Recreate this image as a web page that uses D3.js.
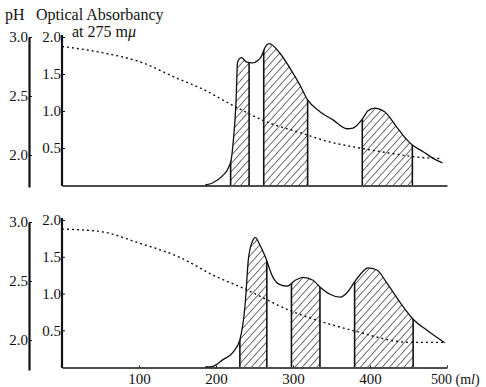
<!DOCTYPE html>
<html>
<head>
<meta charset="utf-8">
<title>Optical Absorbancy and pH</title>
<script src="https://cdnjs.cloudflare.com/ajax/libs/d3/7.8.5/d3.min.js"></script>
<style>
    * { margin: 0; padding: 0; }
    body { background: #fff; }
    svg { display: block; font-family: "Liberation Serif", "DejaVu Serif", serif; }
    .axis path, .axis line { stroke: #111; }
</style>
</head>
<body>
<script>
    // effluent volume ticks (ml) and value ticks
    var mlTicks = [100, 200, 300, 400, 500];
    var absTicks = [0.5, 1.0, 1.5, 2.0];
    var phTicks = [2.0, 2.5, 3.0];

    // upper run
    var topAbsMl = [186, 196, 208, 216, 220, 222, 226, 228, 233, 240, 247, 255, 260, 262, 269, 283, 296, 309, 319, 335, 352, 370, 378, 390, 397, 406, 419, 435, 448, 455, 469, 482, 494];
    var topAbs = [0, 0.03, 0.12, 0.23, 0.36, 0.54, 1.12, 1.66, 1.72, 1.66, 1.65, 1.69, 1.76, 1.82, 1.91, 1.78, 1.58, 1.35, 1.15, 0.99, 0.88, 0.76, 0.77, 0.89, 1.00, 1.04, 0.99, 0.78, 0.61, 0.54, 0.45, 0.36, 0.30];
    var topPhMl = [0, 50, 101, 153, 179, 222, 266, 309, 348, 378, 422, 465, 494];
    var topPh = [2.92, 2.87, 2.79, 2.64, 2.57, 2.42, 2.28, 2.19, 2.11, 2.07, 2.02, 1.98, 1.97];
    var topBands = [[219, 243], [262, 319], [390, 455]];

    // lower run
    var botAbsMl = [186, 196, 209, 222, 231, 238, 242, 247, 251, 257, 264, 274, 283, 292, 303, 313, 326, 335, 348, 361, 371, 380, 390, 397, 409, 422, 439, 456, 474, 497];
    var botAbs = [0, 0.01, 0.10, 0.20, 0.37, 0.87, 1.46, 1.70, 1.76, 1.66, 1.50, 1.22, 1.12, 1.10, 1.18, 1.22, 1.18, 1.09, 0.99, 0.95, 1.02, 1.16, 1.29, 1.35, 1.32, 1.14, 0.88, 0.65, 0.50, 0.33];
    var botPhMl = [0, 49, 101, 153, 196, 235, 296, 378, 452, 497];
    var botPh = [2.94, 2.92, 2.82, 2.70, 2.55, 2.44, 2.25, 2.08, 1.98, 1.98];
    var botBands = [[231, 266], [298, 335], [380, 456]];

    var width = 486, height = 387;
    var serif = "'Liberation Serif', 'DejaVu Serif', serif";

    var svg = d3.select("body").append("svg")
        .attr("width", width)
        .attr("height", height);

    svg.append("rect").attr("width", width).attr("height", height).attr("fill", "#fff");

    // diagonal hatching
    svg.append("defs").append("pattern")
        .attr("id", "hatch")
        .attr("patternUnits", "userSpaceOnUse")
        .attr("width", 5.4)
        .attr("height", 5.4)
        .attr("patternTransform", "rotate(42)")
        .append("line")
        .attr("x1", 0).attr("y1", 0)
        .attr("x2", 0).attr("y2", 5.4)
        .attr("stroke", "#111")
        .attr("stroke-width", 1.2);

    var x = d3.scaleLinear().domain([0, 500]).range([62, 447]);

    var panels = [
        { id: "top", ml: topAbsMl, abs: topAbs, phMl: topPhMl, ph: topPh, bands: topBands,
          base: 185, absTop: 37, phTopY: 37, phStep: 118, phBottom: 187, labels: false },
        { id: "bot", ml: botAbsMl, abs: botAbs, phMl: botPhMl, ph: botPh, bands: botBands,
          base: 367, absTop: 220, phTopY: 222, phStep: 118, phBottom: 370, labels: true }
    ];

    panels.forEach(function(p) {
        var g = svg.append("g").attr("class", "panel-" + p.id);

        var y = d3.scaleLinear()
            .domain([0, 2.0])
            .range([p.base, p.absTop]);
        // pH axis reaches down past 2.0
        var phLow = 3.0 - (p.phBottom - p.phTopY) / p.phStep;
        var yPh = d3.scaleLinear()
            .domain([phLow, 3.0])
            .range([p.phBottom, p.phTopY]);

        var pts = p.ml.map(function(d, i) { return [d, p.abs[i]]; });
        var phPts = p.phMl.map(function(d, i) { return [d, p.ph[i]]; });

        var area = d3.area()
            .x(function(d) { return x(d[0]); })
            .y0(y(0))
            .y1(function(d) { return y(d[1]); })
            .curve(d3.curveMonotoneX);
        var line = d3.line()
            .x(function(d) { return x(d[0]); })
            .y(function(d) { return y(d[1]); })
            .curve(d3.curveMonotoneX);

        // clip under the curve, used for band edges
        var defs = svg.select("defs");
        defs.append("clipPath").attr("id", "under-" + p.id)
            .append("path").attr("d", area(pts));

        p.bands.forEach(function(b, i) {
            defs.append("clipPath").attr("id", "band-" + p.id + i)
                .append("rect")
                .attr("x", x(b[0]))
                .attr("y", 0)
                .attr("width", x(b[1]) - x(b[0]))
                .attr("height", height);
            g.append("path")
                .attr("d", area(pts))
                .attr("fill", "url(#hatch)")
                .attr("clip-path", "url(#band-" + p.id + i + ")");
        });

        // vertical band edges
        var edges = [];
        p.bands.forEach(function(b) { edges.push(b[0], b[1]); });
        g.append("g").attr("clip-path", "url(#under-" + p.id + ")")
            .selectAll("line")
            .data(edges)
            .enter().append("line")
            .attr("x1", function(d) { return x(d); })
            .attr("x2", function(d) { return x(d); })
            .attr("y1", y(0))
            .attr("y2", p.absTop - 5)
            .attr("stroke", "#111")
            .attr("stroke-width", 1.6);

        // absorbancy curve
        g.append("path")
            .attr("d", line(pts))
            .attr("fill", "none")
            .attr("stroke", "#111")
            .attr("stroke-width", 1.3);

        // pH curve (dotted)
        g.append("path")
            .attr("d", d3.line()
                .x(function(d) { return x(d[0]); })
                .y(function(d) { return yPh(d[1]); })
                .curve(d3.curveMonotoneX)(phPts))
            .attr("fill", "none")
            .attr("stroke", "#111")
            .attr("stroke-width", 1.4)
            .attr("stroke-dasharray", "2,3");

        // x axis
        var xAxis = d3.axisBottom(x)
            .tickValues(p.labels ? mlTicks : [])
            .tickSizeInner(-2)
            .tickSizeOuter(0)
            .tickPadding(6)
            .tickFormat(function(d) { return d === 500 ? "" : d3.format("d")(d); });
        var xg = g.append("g")
            .attr("class", "axis")
            .attr("transform", "translate(0," + (p.base + 0.5) + ")")
            .call(xAxis)
            .attr("font-family", serif)
            .attr("font-size", 15);
        xg.selectAll("text").attr("fill", "#111");
        xg.select(".domain").attr("stroke-width", 1.6);

        if (p.labels) {
            var last = g.append("text")
                .attr("x", x(500) - 16)
                .attr("y", p.base + 17)
                .attr("fill", "#111")
                .style("font-size", "14px")
                .text("500 (m");
            last.append("tspan").style("font-style", "italic").text("l");
            last.append("tspan").text(")");
        }

        // absorbancy axis
        var yAxis = d3.axisLeft(y)
            .tickValues(absTicks)
            .tickSizeInner(-3)
            .tickSizeOuter(0)
            .tickPadding(1)
            .tickFormat(d3.format(".1f"));
        var yg = g.append("g")
            .attr("class", "axis")
            .attr("transform", "translate(" + x(0) + ",0)")
            .call(yAxis)
            .attr("font-family", serif)
            .attr("font-size", 15);
        yg.selectAll("text").attr("fill", "#111");
        yg.select(".domain")
            .attr("d", "M0," + (y(0) + 1) + "V" + (p.absTop - 2))
            .attr("stroke-width", 2.2);

        // pH axis
        var phAxis = d3.axisLeft(yPh)
            .tickValues(phTicks)
            .tickSizeInner(-3)
            .tickSizeOuter(0)
            .tickPadding(1)
            .tickFormat(d3.format(".1f"));
        var pg = g.append("g")
            .attr("class", "axis")
            .attr("transform", "translate(29,0)")
            .call(phAxis)
            .attr("font-family", serif)
            .attr("font-size", 15);
        pg.selectAll("text").attr("fill", "#111");
        pg.select(".domain").attr("stroke-width", 2.2);
    });

    // headings
    svg.append("text")
        .attr("x", 5).attr("y", 20)
        .attr("fill", "#111")
        .style("font-size", "16px")
        .text("pH");
    svg.append("text")
        .attr("x", 36).attr("y", 20)
        .attr("fill", "#111")
        .style("font-size", "16px")
        .text("Optical Absorbancy");
    var sub = svg.append("text")
        .attr("x", 72).attr("y", 37)
        .attr("fill", "#111")
        .style("font-size", "16px")
        .text("at 275 m");
    sub.append("tspan").style("font-style", "italic").text("μ");
</script>
</body>
</html>
